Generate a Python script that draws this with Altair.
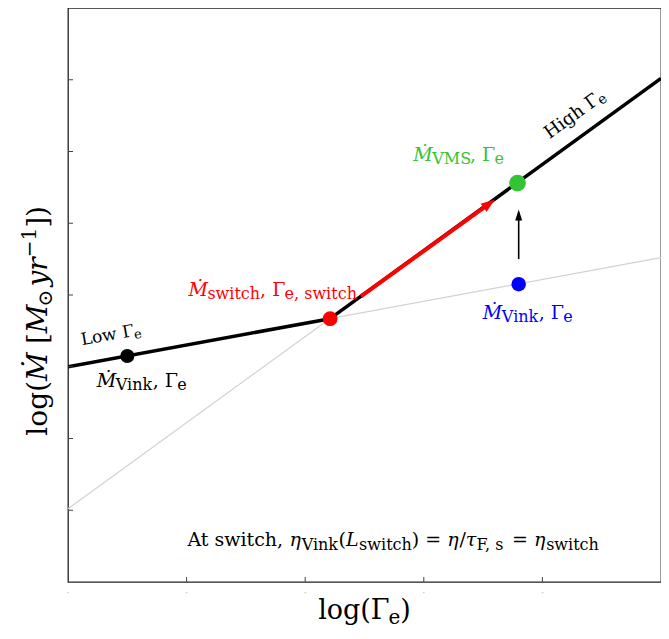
import math
import altair as alt
import pandas as pd

# ---------------- data ----------------
X_DOMAIN = [0, 5]
Y_DOMAIN = [0, 8]
X_TICKS = [1, 2, 3, 4]
X_DOTS = [0, 1, 2, 3, 4]
Y_TICKS = [1, 2, 3, 4, 5, 6, 7]

vink_x = [0.0, 5.0]
vink_y = [3.00, 4.52]
vms_x = [0.0, 5.0]
vms_y = [1.02, 7.02]
low_x = [0.0, 2.21]
low_y = [3.00, 3.67]
high_x = [2.21, 5.0]
high_y = [3.67, 7.02]

pt_x = [0.50, 2.21, 3.79, 3.80]
pt_y = [3.15, 3.67, 5.56, 4.15]
pt_color = ["#000000", "#ff0000", "#33c433", "#0000ff"]
pt_size = [200, 220, 280, 210]

red_arrow_x = [2.47, 3.60]
red_arrow_y = [3.98, 5.33]
black_arrow_x = [3.80, 3.80]
black_arrow_y = [4.50, 5.19]

GREEN = "#33c433"
BLUE = "#0000ff"
RED = "#ff0000"

# annotation labels: anchor (data), angle, colour, alignment, pieces (text, size, style, baseline shift)
labels = [
    dict(x=0.117, y=3.30, angle=350, color="#000000", align="left",
         pieces=[("Low ", 17, "n", 0), ("Γ", 17, "n", 0), ("e", 13, "n", 3)]),
    dict(x=0.243, y=2.713, angle=0, color="#000000", align="left",
         pieces=[("Ṁ", 19, "i", 0), ("Vink", 16, "n", 3), (", ", 19, "n", 0), ("Γ", 19, "n", 0), ("e", 16, "n", 3)]),
    dict(x=1.015, y=3.993, angle=0, color=RED, align="left",
         pieces=[("Ṁ", 19, "i", 0), ("switch", 16, "n", 3), (", ", 19, "n", 0), ("Γ", 19, "n", 0), ("e, switch", 16, "n", 3)]),
    dict(x=2.911, y=5.866, angle=0, color=GREEN, align="left",
         pieces=[("Ṁ", 19, "i", 0), ("VMS", 16, "n", 3), (", ", 19, "n", 0), ("Γ", 19, "n", 0), ("e", 16, "n", 3)]),
    dict(x=3.498, y=3.663, angle=0, color=BLUE, align="left",
         pieces=[("Ṁ", 19, "i", 0), ("Vink", 16, "n", 3), (", ", 19, "n", 0), ("Γ", 19, "n", 0), ("e", 16, "n", 3)]),
    dict(x=4.06, y=6.169, angle=324, color="#000000", align="left",
         pieces=[("High ", 18, "n", 0), ("Γ", 18, "n", 0), ("e", 14, "n", 3)]),
    dict(x=1.007, y=0.496, angle=0, color="#000000", align="left",
         pieces=[("At switch, ", 19, "n", 0), ("η", 19, "i", 0), ("Vink", 16, "n", 4), ("(", 19, "n", 0),
                 ("L", 19, "i", 0), ("switch", 16, "n", 4), (") = ", 19, "n", 0), ("η", 19, "i", 0),
                 ("/", 19, "n", 0), ("τ", 19, "i", 0), ("F, s", 16, "n", 4), (" = ", 19, "n", 0),
                 ("η", 19, "i", 0), ("switch", 16, "n", 4)]),
    # x axis title
    dict(x=2.5, y=-0.516, angle=0, color="#000000", align="center",
         pieces=[("log(", 27, "n", 0), ("Γ", 27, "n", 0), ("e", 20, "n", 5), (")", 27, "n", 0)]),
    # y axis title
    dict(x=-0.176, y=3.64, angle=270, color="#000000", align="center",
         pieces=[("log(", 28, "n", 0), ("Ṁ", 28, "i", 0), (" [", 28, "n", 0), ("M", 28, "i", 0),
                 ("⊙", 20, "n", 5), (" ", 10, "n", 0), ("yr", 28, "i", 0), ("−1", 20, "n", -11),
                 ("])", 28, "n", 0)]),
]

# ---------------- layout ----------------
W_PLOT = 593
H_PLOT = 574
PX = W_PLOT / (X_DOMAIN[1] - X_DOMAIN[0])
PY = H_PLOT / (Y_DOMAIN[1] - Y_DOMAIN[0])
FONT = "DejaVu Serif"

EM = {' ': .318, ',': .318, '(': .390, ')': .390, '[': .390, ']': .390, '/': .337, '=': .838,
      'A': .722, 'F': .695, 'H': .872, 'L': .694, 'M': .952, 'S': .686, 'V': .722,
      'a': .596, 'c': .560, 'e': .592, 'g': .640, 'h': .644, 'i': .320, 'k': .617, 'l': .320,
      'n': .644, 'o': .602, 'r': .478, 's': .513, 't': .402, 'w': .856, 'y': .565,
      'Γ': .652, 'η': .640, 'τ': .560, 'Ṁ': 1.0, '⊙': .838, '−': .838, '1': .636}


def text_width(t, size):
    return sum(EM.get(c, 0.6) for c in t) * size


rows = []
for lab in labels:
    a = math.radians(lab["angle"])
    ux, uy = math.cos(a), math.sin(a)
    vx, vy = -math.sin(a), math.cos(a)
    total = sum(text_width(p[0], p[1]) for p in lab["pieces"])
    off = -total / 2 if lab["align"] == "center" else 0.0
    for text, size, style, shift in lab["pieces"]:
        # SVG drops leading/trailing blanks: advance over them instead
        lead = len(text) - len(text.lstrip(" "))
        start = off + lead * EM[" "] * size
        body = text.strip(" ")
        off += text_width(text, size)
        if not body:
            continue
        sx = start * ux + shift * vx
        sy = start * uy + shift * vy
        rows.append(dict(x=lab["x"] + sx / PX, y=lab["y"] - sy / PY, text=body, size=size,
                         style=style, color=lab["color"], angle=lab["angle"]))
text_df = pd.DataFrame(rows)

xs = alt.Scale(domain=X_DOMAIN, nice=False, zero=False)
ys = alt.Scale(domain=Y_DOMAIN, nice=False, zero=False)


def line_layer(xv, yv, color, width):
    df = pd.DataFrame({"x": xv, "y": yv})
    return alt.Chart(df).mark_line(color=color, strokeWidth=width, strokeCap="butt", clip=True).encode(
        x=alt.X("x:Q", scale=xs, axis=None), y=alt.Y("y:Q", scale=ys, axis=None))


def arrow(xv, yv, color, width, head_len, head_w):
    dxp = (xv[1] - xv[0]) * PX
    dyp = (yv[1] - yv[0]) * PY
    L = math.hypot(dxp, dyp)
    ang = math.degrees(math.atan2(dxp, dyp)) % 360
    back = head_len - 2
    ex = xv[1] - dxp / L * back / PX
    ey = yv[1] - dyp / L * back / PY
    shaft = line_layer([xv[0], ex], [yv[0], ey], color, width)
    hw = head_w / head_len
    path = f"M0,0 L{hw:.3f},2 L{-hw:.3f},2 Z"
    hdf = pd.DataFrame({"x": [xv[1]], "y": [yv[1]], "a": [ang]})
    head = alt.Chart(hdf).mark_point(shape=path, filled=True, color=color, opacity=1,
                                     size=head_len ** 2, strokeWidth=0).encode(
        x=alt.X("x:Q", scale=xs, axis=None), y=alt.Y("y:Q", scale=ys, axis=None),
        angle=alt.Angle("a:Q", scale=None))
    return shaft + head


# faint tick-label remnants below the x axis
dots = alt.Chart(pd.DataFrame({"x": X_DOTS})).mark_text(
    text="·", font=FONT, fontSize=11, color="#c4c4c4", baseline="middle").encode(
    x=alt.X("x:Q", scale=xs, axis=None), y=alt.value(H_PLOT + 12))

xticks = alt.Chart(pd.DataFrame({"x": X_TICKS})).mark_rule(color="#444444", strokeWidth=1).encode(
    x=alt.X("x:Q", scale=xs, axis=None), y=alt.value(H_PLOT), y2=alt.value(H_PLOT - 5))
yticks = alt.Chart(pd.DataFrame({"y": Y_TICKS})).mark_rule(color="#444444", strokeWidth=1).encode(
    y=alt.Y("y:Q", scale=ys, axis=None), x=alt.value(0), x2=alt.value(5))

grey_vink = line_layer(vink_x, vink_y, "#d2d2d2", 1.2)
grey_vms = line_layer(vms_x, vms_y, "#d2d2d2", 1.2)
black_low = line_layer(low_x, low_y, "#000000", 3.5)
black_high = line_layer(high_x, high_y, "#000000", 3.5)
red_arrow = arrow(red_arrow_x, red_arrow_y, RED, 4, 14, 10)
black_arrow = arrow(black_arrow_x, black_arrow_y, "#000000", 1.6, 11, 7)

pts = alt.Chart(pd.DataFrame({"x": pt_x, "y": pt_y, "c": pt_color, "s": pt_size})).mark_circle(
    opacity=1).encode(
    x=alt.X("x:Q", scale=xs, axis=None), y=alt.Y("y:Q", scale=ys, axis=None),
    color=alt.Color("c:N", scale=None), size=alt.Size("s:Q", scale=None))


def text_layer(style, font_style):
    return alt.Chart(text_df).transform_filter(alt.datum.style == style).mark_text(
        font=FONT, fontStyle=font_style, align="left", baseline="alphabetic").encode(
        x=alt.X("x:Q", scale=xs, axis=None), y=alt.Y("y:Q", scale=ys, axis=None),
        text="text:N", color=alt.Color("color:N", scale=None),
        size=alt.Size("size:Q", scale=None), angle=alt.Angle("angle:Q", scale=None))


chart = alt.layer(
    grey_vink, grey_vms, black_low, black_high, red_arrow, black_arrow,
    xticks, yticks, dots, pts, text_layer("n", "normal"), text_layer("i", "italic")
).properties(
    width=W_PLOT, height=H_PLOT,
    autosize=alt.AutoSizeParams(type="none"),
    padding={"left": 60, "top": 0, "right": 0, "bottom": 49},
    background="white",
).configure_view(stroke="#222222", strokeWidth=1.3)

chart.save("out.html", embed_options={"renderer": "svg", "actions": False})
